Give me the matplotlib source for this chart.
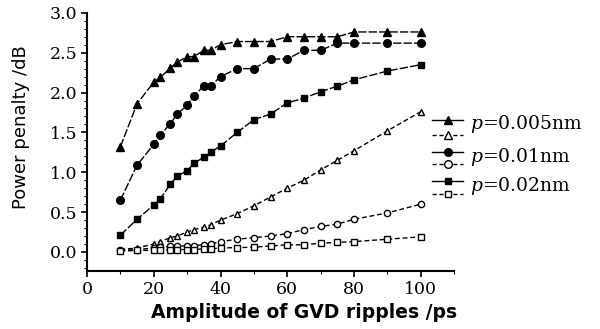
import matplotlib
matplotlib.use("Agg")
import matplotlib.pyplot as plt
from matplotlib.lines import Line2D
from matplotlib.ticker import MultipleLocator

# ---- data ----
x_vals = [10, 15, 20, 22, 25, 27, 30, 32, 35, 37, 40, 45, 50, 55, 60, 65, 70, 75, 80, 90, 100]
tri_filled = [1.32, 1.86, 2.13, 2.19, 2.31, 2.38, 2.45, 2.45, 2.53, 2.53, 2.60, 2.64, 2.64, 2.64, 2.70, 2.70, 2.70, 2.70, 2.76, 2.76, 2.76]
cir_filled = [0.65, 1.09, 1.35, 1.47, 1.61, 1.73, 1.84, 1.96, 2.08, 2.08, 2.20, 2.30, 2.30, 2.42, 2.42, 2.53, 2.53, 2.62, 2.62, 2.62, 2.62]
sq_filled = [0.21, 0.41, 0.59, 0.67, 0.85, 0.95, 1.02, 1.11, 1.19, 1.25, 1.33, 1.50, 1.66, 1.73, 1.87, 1.93, 2.01, 2.08, 2.16, 2.27, 2.35]
tri_open = [0.03, 0.05, 0.10, 0.13, 0.18, 0.20, 0.25, 0.28, 0.31, 0.34, 0.40, 0.48, 0.58, 0.69, 0.80, 0.90, 1.03, 1.15, 1.27, 1.52, 1.76]
cir_open = [0.02, 0.03, 0.05, 0.06, 0.07, 0.07, 0.08, 0.08, 0.09, 0.10, 0.13, 0.16, 0.18, 0.20, 0.23, 0.28, 0.32, 0.35, 0.41, 0.49, 0.60]
sq_open = [0.01, 0.02, 0.02, 0.02, 0.03, 0.03, 0.03, 0.03, 0.04, 0.04, 0.05, 0.055, 0.06, 0.075, 0.09, 0.09, 0.11, 0.12, 0.13, 0.16, 0.19]
labels = ["0.005nm", "0.01nm", "0.02nm"]
x_ticks = [0, 20, 40, 60, 80, 100]
y_ticks = [0.0, 0.5, 1.0, 1.5, 2.0, 2.5, 3.0]

plt.rcParams["mathtext.fontset"] = "dejavuserif"
serif = "DejaVu Serif"
sans = "DejaVu Sans"

fig = plt.figure(figsize=(6.0, 3.29), dpi=100)
ax = fig.add_axes([0.145, 0.176, 0.612, 0.785])

solid_ls = (0, (6, 1.5))
open_ls = (0, (3.5, 2))
styles = [
    (tri_filled, "^", "black", solid_ls, 6),
    (tri_open, "^", "white", open_ls, 5),
    (cir_filled, "o", "black", solid_ls, 5.5),
    (cir_open, "o", "white", open_ls, 4.5),
    (sq_filled, "s", "black", solid_ls, 4.5),
    (sq_open, "s", "white", open_ls, 4),
]
for ys, m, fc, ls, ms in styles:
    ax.plot(x_vals, ys, color="black", lw=1.0, linestyle=ls, marker=m,
            markersize=ms, markerfacecolor=fc, markeredgecolor="black",
            markeredgewidth=1.0)

ax.set_xlim(0, 110)
ax.set_ylim(-0.24, 3.0)
ax.spines["top"].set_visible(False)
ax.spines["right"].set_visible(False)
for s in ("left", "bottom"):
    ax.spines[s].set_linewidth(1.5)
ax.set_xticks(x_ticks)
ax.set_yticks(y_ticks)
ax.set_xticklabels([str(v) for v in x_ticks], fontfamily=serif, fontsize=12.5)
ax.set_yticklabels([f"{v:.1f}" for v in y_ticks], fontfamily=serif, fontsize=12.5)
ax.xaxis.set_minor_locator(MultipleLocator(10))
ax.yaxis.set_minor_locator(MultipleLocator(0.1))
ax.tick_params(which="major", direction="out", length=4, width=1.2, pad=3)
ax.tick_params(which="minor", direction="out", length=2, width=0.8)

ax.set_xlabel("Amplitude of GVD ripples /ps", fontfamily=sans,
              fontsize=13.5, fontweight="bold")
ax.xaxis.set_label_coords(0.59, -0.125)
ax.set_ylabel("Power penalty /dB", fontfamily=sans, fontsize=13)
ax.yaxis.set_label_coords(-0.156, 0.558)

# ---- legend (drawn manually) ----
W, H = 600.0, 329.0
rows = [(120, 135, 124), (152, 164, 157), (181, 194, 186)]
markers = ["^", "o", "s"]
msz = [6, 5.5, 4.5]
for (yf, yo, yt), m, ms, lab in zip(rows, markers, msz, labels):
    for yy, fc, ls in ((yf, "black", "-"), (yo, "white", (0, (3, 2)))):
        fig.add_artist(Line2D([432 / W, 463 / W], [1 - yy / H, 1 - yy / H],
                              transform=fig.transFigure, color="black",
                              lw=1.0, linestyle=ls))
        fig.add_artist(Line2D([447.5 / W], [1 - yy / H], transform=fig.transFigure,
                              marker=m, markersize=ms, markerfacecolor=fc,
                              markeredgecolor="black", markeredgewidth=1.0,
                              linestyle="none"))
    fig.text(470 / W, 1 - yt / H, r"$p$" + "=" + lab, fontfamily=serif,
             fontsize=13.5, va="center", ha="left")

fig.savefig("out.png", dpi=100)
